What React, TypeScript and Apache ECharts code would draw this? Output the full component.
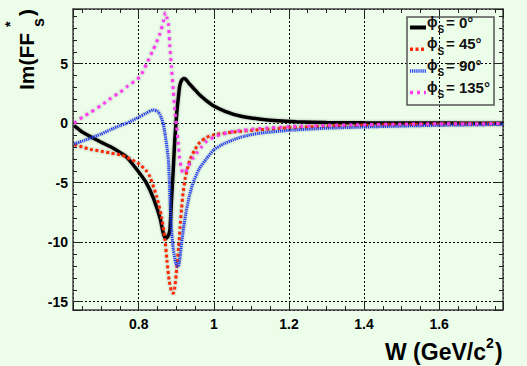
import React, { useEffect, useRef } from "react";
import * as echarts from "echarts";

// W (GeV/c^2), Im(FF*_s)
const phi0: [number, number][] = [
  [0.628, -0.2], [0.65, -0.75], [0.671, -1.12], [0.7, -1.6], [0.724, -1.96], [0.75, -2.45],
  [0.768, -2.85], [0.8, -4.1], [0.82, -5.0], [0.839, -6.3], [0.857, -8.0], [0.865, -9.2],
  [0.872, -9.7], [0.878, -9.5], [0.883, -9.0], [0.887, -6.6], [0.892, -3.9], [0.896, -1.4],
  [0.902, 1.1], [0.906, 2.3], [0.909, 3.1], [0.914, 3.6], [0.92, 3.75], [0.925, 3.7],
  [0.935, 3.3], [0.95, 2.8], [0.965, 2.3], [0.98, 1.9], [1.0, 1.45], [1.03, 1.0],
  [1.07, 0.6], [1.12, 0.35], [1.17, 0.2], [1.22, 0.12], [1.3, 0.06], [1.4, 0.03],
  [1.5, 0.02], [1.6, 0.01], [1.77, 0.0],
];
const phi45: [number, number][] = [
  [0.628, -1.8], [0.65, -2.0], [0.671, -2.2], [0.7, -2.35], [0.724, -2.5], [0.75, -2.65],
  [0.768, -2.85], [0.8, -3.4], [0.82, -4.0], [0.83, -4.5], [0.848, -6.2], [0.861, -7.9],
  [0.87, -9.8], [0.875, -11.5], [0.881, -13.2], [0.887, -14.1], [0.892, -14.3], [0.896, -13.8],
  [0.901, -12.3], [0.906, -10.5], [0.91, -8.8], [0.914, -7.2], [0.918, -5.9], [0.924, -4.6],
  [0.93, -3.8], [0.936, -3.1], [0.95, -2.2], [0.963, -1.6], [0.98, -1.2], [1.0, -0.98],
  [1.05, -0.75], [1.12, -0.55], [1.2, -0.38], [1.3, -0.25], [1.4, -0.17], [1.5, -0.12],
  [1.6, -0.08], [1.77, -0.05],
];
const phi90: [number, number][] = [
  [0.628, -1.75], [0.65, -1.5], [0.671, -1.26], [0.7, -0.9], [0.724, -0.56], [0.75, -0.2],
  [0.768, 0.0], [0.8, 0.5], [0.82, 0.85], [0.839, 1.12], [0.85, 1.0], [0.857, 0.7],
  [0.865, 0.0], [0.87, -0.9], [0.875, -2.0], [0.879, -3.1], [0.882, -5.2], [0.884, -7.0],
  [0.888, -9.2], [0.892, -10.6], [0.899, -11.8], [0.905, -12.05], [0.91, -11.3], [0.914, -10.1],
  [0.92, -8.7], [0.927, -7.3], [0.935, -6.1], [0.945, -5.0], [0.96, -3.9], [0.98, -3.0],
  [1.0, -2.24], [1.025, -1.75], [1.051, -1.4], [1.08, -1.1], [1.122, -0.84], [1.2, -0.6],
  [1.3, -0.42], [1.4, -0.32], [1.5, -0.24], [1.6, -0.17], [1.77, -0.1],
];
const phi135: [number, number][] = [
  [0.628, 0.0], [0.65, 0.5], [0.671, 0.9], [0.7, 1.5], [0.724, 2.05], [0.75, 2.6],
  [0.768, 3.05], [0.803, 3.9], [0.821, 5.0], [0.839, 6.2], [0.857, 7.56], [0.866, 8.6],
  [0.871, 9.3], [0.875, 8.9], [0.879, 8.4], [0.883, 6.4], [0.887, 4.76], [0.892, 2.8],
  [0.896, 1.12], [0.901, -0.28], [0.905, -1.68], [0.909, -2.9], [0.913, -3.7], [0.918, -4.2],
  [0.925, -4.1], [0.932, -3.64], [0.943, -3.0], [0.954, -2.52], [0.967, -2.0], [0.98, -1.55],
  [1.007, -1.07], [1.051, -0.7], [1.122, -0.45], [1.2, -0.3], [1.3, -0.18], [1.4, -0.12],
  [1.5, -0.08], [1.6, -0.05], [1.77, -0.03],
];

const angles = ["0°", "45°", "90°", "135°"];
const seriesData = [phi0, phi45, phi90, phi135];
const colors = ["#000000", "#ff2a00", "#1f3cf0", "#ff3cf0"];
const dashes: any[] = ["solid", [3, 2.5], [1.2, 0.9], [3, 4]];
const widths = [3.5, 3, 3, 3];

const X_MIN = 0.625;
const X_MAX = 1.77;
const Y_MIN = -15.7;
const Y_MAX = 9.6;

const BG = "#ecfdea";
const FONT = "'Liberation Sans', Arial, Helvetica, sans-serif";

export default function App() {
  const ref = useRef<HTMLDivElement>(null);
  useEffect(() => {
    document.body.style.margin = "0";
    document.body.style.background = BG;
    const chart = echarts.init(ref.current!, null, { renderer: "svg" });

    const frame = { show: true, onZero: false, lineStyle: { color: "#444", width: 1.5 } };
    const tick = { show: true, inside: true, length: 8, lineStyle: { color: "#222", width: 1 } };

    const legendGraphics: any[] = [
      {
        type: "rect",
        shape: { x: 407, y: 17, width: 87, height: 88 },
        style: { fill: "transparent", stroke: "#555", lineWidth: 1.5 },
        z: 100,
      },
    ];
    angles.forEach((a, i) => {
      const b = 27.5 + i * 21.7;
      legendGraphics.push({
        type: "line",
        shape: { x1: 410, y1: b, x2: 426, y2: b },
        style: {
          stroke: colors[i],
          lineWidth: i === 0 ? 4 : 3.5,
          lineDash: dashes[i] === "solid" ? null : dashes[i],
        },
        z: 100,
      });
      legendGraphics.push({
        type: "text",
        x: 427,
        y: b - 6,
        style: { text: "ϕ", font: `bold 14px ${FONT}`, fill: "#111", verticalAlign: "middle", align: "left" },
        z: 100,
      });
      legendGraphics.push({
        type: "text",
        x: 437.5,
        y: b + 2,
        style: { text: "S", font: `bold 10px ${FONT}`, fill: "#111", verticalAlign: "middle", align: "left" },
        z: 100,
      });
      legendGraphics.push({
        type: "text",
        x: 446,
        y: b - 5.4,
        style: { text: "= " + a, font: `bold 15px ${FONT}`, fill: "#111", verticalAlign: "middle", align: "left" },
        z: 100,
      });
    });

    const titleGraphics: any[] = [
      // y title, rotated
      {
        type: "text", x: 26, y: 90, rotation: Math.PI / 2,
        style: { text: "Im(FF", font: `bold 21px ${FONT}`, fill: "#000", align: "left", verticalAlign: "middle" },
      },
      {
        type: "text", x: 10, y: 27, rotation: Math.PI / 2,
        style: { text: "*", font: `bold 14px ${FONT}`, fill: "#000", align: "left", verticalAlign: "middle" },
      },
      {
        type: "text", x: 38, y: 27, rotation: Math.PI / 2,
        style: { text: "s", font: `bold 16px ${FONT}`, fill: "#000", align: "left", verticalAlign: "middle" },
      },
      {
        type: "text", x: 26, y: 16, rotation: Math.PI / 2,
        style: { text: ")", font: `bold 21px ${FONT}`, fill: "#000", align: "left", verticalAlign: "middle" },
      },
      // x title
      {
        type: "text", x: 385, y: 352,
        style: { text: "W (GeV/c", font: `bold 23px ${FONT}`, fill: "#000", align: "left", verticalAlign: "middle" },
      },
      {
        type: "text", x: 486, y: 343,
        style: { text: "2", font: `bold 14px ${FONT}`, fill: "#000", align: "left", verticalAlign: "middle" },
      },
      {
        type: "text", x: 495, y: 352,
        style: { text: ")", font: `bold 23px ${FONT}`, fill: "#000", align: "left", verticalAlign: "middle" },
      },
    ];

    chart.setOption({
      animation: false,
      backgroundColor: BG,
      grid: { left: 73, right: 24, top: 9, bottom: 56, containLabel: false },
      xAxis: [
        {
          type: "value", min: X_MIN, max: X_MAX, position: "bottom",
          axisLine: frame, axisTick: tick,
          minorTick: { show: true, splitNumber: 4, length: 4, lineStyle: { color: "#222" } },
          axisLabel: {
            show: true, showMinLabel: false, showMaxLabel: false, margin: 7,
            fontSize: 14, fontWeight: "bold", color: "#000", fontFamily: FONT,
          },
          splitLine: { show: true, lineStyle: { color: "#000", type: [2, 2], width: 1 } },
        },
        {
          type: "value", min: X_MIN, max: X_MAX, position: "top",
          axisLine: frame, axisTick: tick,
          minorTick: { show: true, splitNumber: 4, length: 4, lineStyle: { color: "#222" } },
          axisLabel: { show: false }, splitLine: { show: false },
        },
      ],
      yAxis: [
        {
          type: "value", min: Y_MIN, max: Y_MAX, position: "left",
          axisLine: frame, axisTick: tick,
          minorTick: { show: true, splitNumber: 5, length: 4, lineStyle: { color: "#222" } },
          axisLabel: {
            show: true, showMinLabel: false, showMaxLabel: false, margin: 5,
            fontSize: 14, fontWeight: "bold", color: "#000", fontFamily: FONT,
          },
          splitLine: { show: true, lineStyle: { color: "#000", type: [2, 2], width: 1 } },
        },
        {
          type: "value", min: Y_MIN, max: Y_MAX, position: "right",
          axisLine: frame, axisTick: tick,
          minorTick: { show: true, splitNumber: 5, length: 4, lineStyle: { color: "#222" } },
          axisLabel: { show: false }, splitLine: { show: false },
        },
      ],
      series: seriesData.map((d, i) => ({
        name: "φS = " + angles[i],
        type: "line",
        xAxisIndex: 0,
        yAxisIndex: 0,
        data: d,
        showSymbol: false,
        symbol: "none",
        smooth: 0.2,
        lineStyle: {
          color: colors[i],
          width: widths[i],
          type: dashes[i],
          cap: "butt",
          shadowColor: "rgba(60,60,60,0.45)",
          shadowBlur: 2,
        },
        z: 2 + i,
      })),
      graphic: [...legendGraphics, ...titleGraphics],
    });
    return () => chart.dispose();
  }, []);
  return <div ref={ref} style={{ width: 527, height: 366, background: BG }} />;
}
